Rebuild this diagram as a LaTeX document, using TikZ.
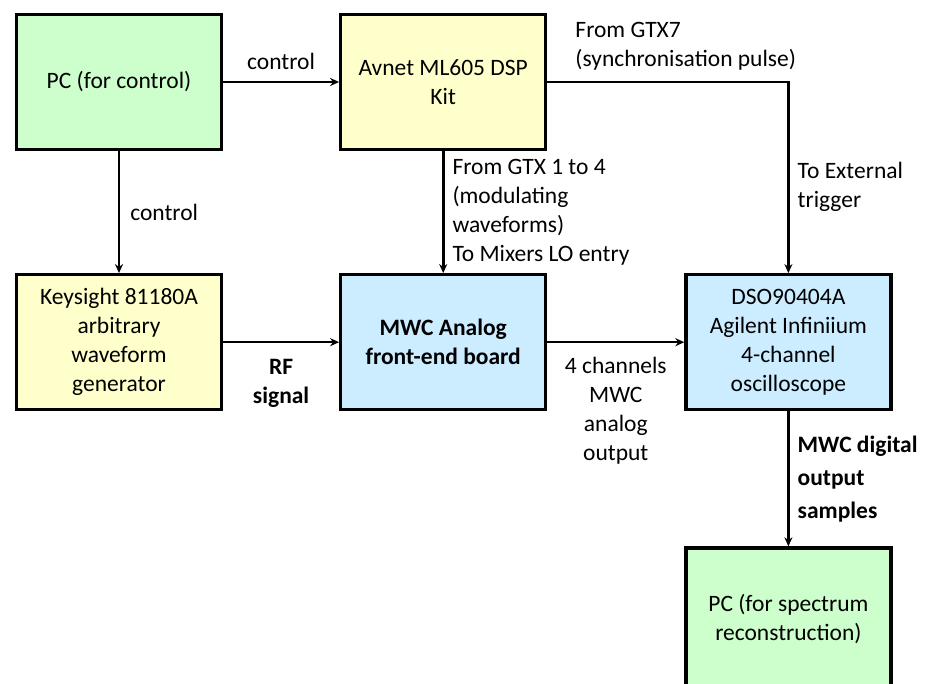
\documentclass[tikz,border=0pt]{standalone}
\usepackage{fontspec}
\setmainfont{Carlito}
\usetikzlibrary{positioning,arrows.meta}

\definecolor{pcgreen}{RGB}{204,255,204}
\definecolor{kityellow}{RGB}{255,255,204}
\definecolor{boardblue}{RGB}{204,236,255}

\begin{document}
\begin{tikzpicture}[
        x = 1pt, y = -1pt,
        font = \fontsize{23.5}{29}\selectfont,
        box/.style = {
            draw, line width = 3.2pt,
            align = center,
            minimum width = 205pt,
            minimum height = 135pt,
            inner sep = 0pt,
        },
        link/.style = {
            -{Stealth[length = 9pt, width = 8pt]},
            line width = 2.6pt,
        },
        ]

        \useasboundingbox (0,0) rectangle (929,684);

        % Blokken
        \node[box, fill = pcgreen] (pc_control) at (119,82) {PC (for control)};
        \node[box, fill = kityellow, right = 116pt of pc_control] (avnet) {Avnet ML605 DSP\\Kit};
        \node[box, fill = kityellow, below = 122pt of pc_control] (keysight) {Keysight 81180A\\arbitrary\\waveform\\generator};
        \node[box, fill = boardblue, right = 116pt of keysight] (mwc_board) {\bfseries MWC Analog\\\bfseries front-end board};
        \node[box, fill = boardblue, right = 137pt of mwc_board] (dso) {DSO90404A\\Agilent Infiniium\\4-channel\\oscilloscope};
        \node[box, fill = pcgreen, below = 135pt of dso, minimum height = 143pt] (pc_spectrum) {PC (for spectrum\\reconstruction)};

        % Verbindingen
        \draw[link] (pc_control) -- node[above, inner sep = 11pt] {control} (avnet);
        \draw[link] (pc_control) -- node[right, inner sep = 10pt] {control} (keysight);
        \draw[link] (avnet) -- node[right, align = left, inner sep = 8pt] {From GTX 1 to 4\\(modulating\\waveforms)\\To Mixers LO entry} (mwc_board);
        \draw[link] (avnet.east) -| node[pos = 0.035, anchor = south west, align = left, inner sep = 10pt] {From GTX7\\(synchronisation pulse)}
            node[pos = 0.775, right, align = left, inner sep = 8pt] {To External\\trigger} (dso.north);
        \draw[link] (keysight) -- node[below, align = center, inner sep = 16pt, font = \fontsize{23.5}{29}\selectfont\bfseries] {RF\\signal} (mwc_board);
        \draw[link] (mwc_board) -- node[below, align = center, inner sep = 14pt] {4 channels\\MWC\\analog\\output} (dso);
        \draw[link] (dso) -- node[right, align = left, inner sep = 8pt, font = \fontsize{23.5}{33}\selectfont\bfseries] {MWC digital\\output\\samples} (pc_spectrum);
    \end{tikzpicture}
\end{document}
